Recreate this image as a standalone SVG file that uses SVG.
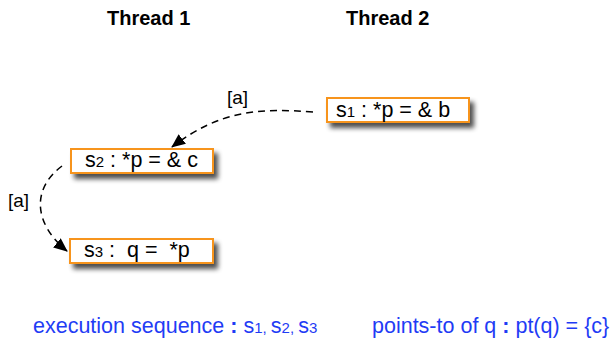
<svg xmlns="http://www.w3.org/2000/svg" width="614" height="338" viewBox="0 0 614 338">
<defs>
<filter id="sh" x="-20%" y="-50%" width="150%" height="250%">
<feGaussianBlur in="SourceAlpha" stdDeviation="2.5"/>
<feOffset dx="4" dy="5" result="b"/>
<feComponentTransfer><feFuncA type="linear" slope="0.7"/></feComponentTransfer>
<feMerge><feMergeNode/><feMergeNode in="SourceGraphic"/></feMerge>
</filter>
<marker id="ah" viewBox="0 0 14 12" refX="13" refY="6" markerWidth="14" markerHeight="12" markerUnits="userSpaceOnUse" orient="auto">
<path d="M0,0 L14,6 L0,12 z" fill="#000"/>
</marker>
</defs>
<style>
.box{fill:#fff;stroke:#f7941d;stroke-width:2;filter:url(#sh)}
.t{font-family:"Liberation Sans",Arial,sans-serif;font-size:21.5px;fill:#000}
.sub{font-size:15px}
.h{font-family:"Liberation Sans",Arial,sans-serif;font-size:20px;font-weight:bold;fill:#000}
.lab{font-family:"Liberation Sans",Arial,sans-serif;font-size:19px;fill:#000}
.b{font-family:"Liberation Sans",Arial,sans-serif;font-size:21.5px;fill:#1f3cf5}
.e{fill:none;stroke:#000;stroke-width:1.5;stroke-dasharray:7,5}
</style>
<rect width="614" height="338" fill="#fff"/>
<text class="h" x="107" y="25">Thread 1</text>
<text class="h" x="346" y="25">Thread 2</text>
<g id="s1">
<rect class="box" x="327" y="98" width="142" height="24"/>
<text class="t" x="336" y="117">s<tspan class="sub">1</tspan> : *p = &amp; b</text>
</g>
<g id="s2">
<rect class="box" x="71" y="149" width="142" height="24"/>
<text class="t" x="85" y="167">s<tspan class="sub">2</tspan> : *p = &amp; c</text>
</g>
<g id="s3">
<rect class="box" x="70" y="239" width="143" height="24"/>
<text class="t" x="84" y="257" xml:space="preserve">s<tspan class="sub">3</tspan> :  q =  *p</text>
</g>
<g id="edges">
<path class="e" d="M313,112 C260,108 220,110 172,147" marker-end="url(#ah)"/>
<path class="e" d="M62,166 C30,190 35,225 67,251" marker-end="url(#ah)"/>
<text class="lab" x="227" y="104">[a]</text>
<text class="lab" x="8" y="207">[a]</text>
</g>
<text class="b" x="33" y="333">execution sequence <tspan font-weight="bold">:</tspan> s<tspan font-size="15">1, </tspan>s<tspan font-size="15">2, </tspan>s<tspan font-size="15">3</tspan></text>
<text class="b" x="372" y="333">points-to of q <tspan font-weight="bold">:</tspan> pt(q) = {c}</text>
</svg>
